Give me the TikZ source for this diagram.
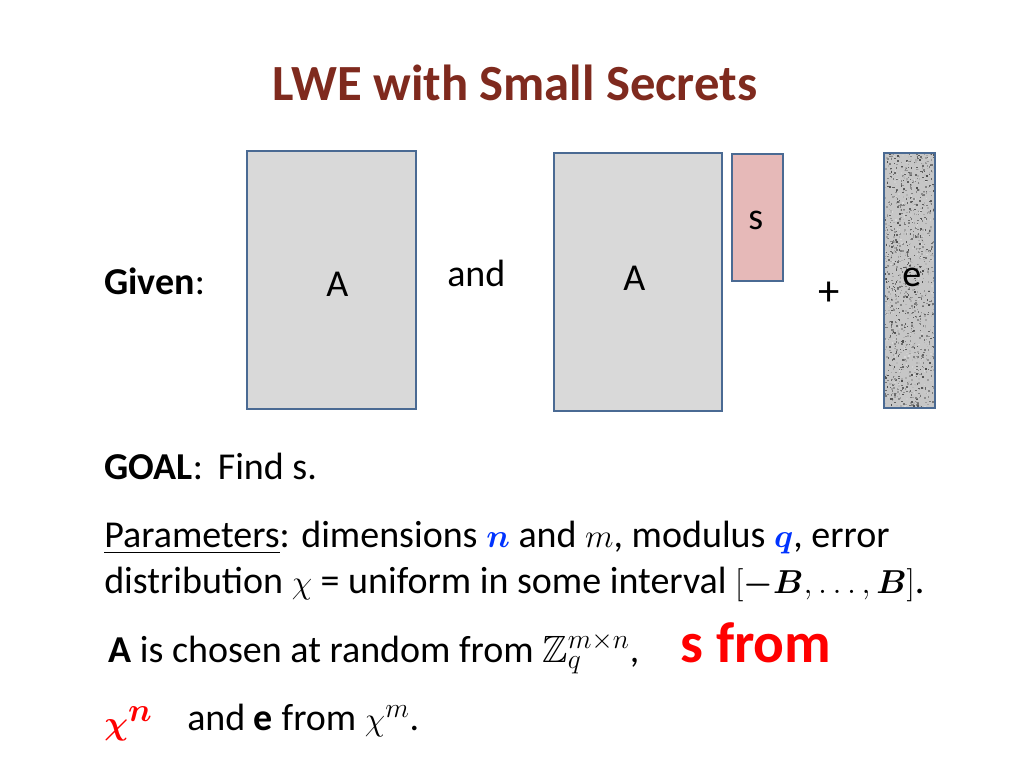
\documentclass[tikz,border=0pt]{standalone}
\usepackage{amsmath,amssymb}
\usepackage{fontspec}
\setmainfont{Carlito}
\definecolor{ttl}{HTML}{7F2A1E}
\definecolor{edge}{HTML}{4A6A93}
\definecolor{mgray}{HTML}{D9D9D9}
\definecolor{spink}{HTML}{E6B9B8}
\definecolor{bl}{HTML}{0033FF}
\begin{document}
\begin{tikzpicture}[x=0.75pt,y=-0.75pt,
  mat/.style={draw=edge,line width=1.5pt},
  txt/.style={anchor=base west,inner sep=0pt,font=\fontsize{28.5}{32}\selectfont}]
\useasboundingbox (0,0) rectangle (1024,768);
\node[font=\fontsize{38}{42}\selectfont\bfseries,text=ttl] (title) at (515,83) {LWE with Small Secrets};
\node[mat,fill=mgray,minimum width=169*0.75pt,minimum height=258*0.75pt,anchor=north west] (A1) at (246,150) {};
\node[mat,fill=mgray,minimum width=168*0.75pt,minimum height=258*0.75pt,anchor=north west] (A2) at (553,152) {};
\node[mat,fill=spink,minimum width=51*0.75pt,minimum height=127*0.75pt,anchor=north west] (s) at (731,153) {};
\begin{scope}
\clip (883,152) rectangle (934,407);
\fill[gray!45] (883,152) rectangle (934,407);
\pgfmathsetseed{7}
\foreach \i in {1,...,1400}{
  \pgfmathsetmacro{\xx}{883+51*rnd}
  \pgfmathsetmacro{\yy}{152+255*rnd}
  \pgfmathsetmacro{\gg}{15+55*rnd}
  \fill[black!\gg] (\xx,\yy) rectangle ++(1.5,1.5);
}
\end{scope}
\node[mat,minimum width=51*0.75pt,minimum height=255*0.75pt,anchor=north west] (e) at (883,152) {};
\node[txt] (given) at (104,294) {\textbf{Given}:};
\node[txt] (la1) at (326,296) {A};
\node[txt] (and) at (447,286) {and};
\node[txt] (la2) at (623,290) {A};
\node[txt] (ls) at (748,229) {s};
\node[txt,font=\fontsize{32}{34}\selectfont] (plus) at (818,305) {+};
\node[txt] (le) at (902,286) {e};
\node[txt] (goal) at (104,479) {\textbf{GOAL}:\, Find s.};
\node[txt] (p1) at (104,547) {\underline{Parameters}: dimensions $\color{bl}\boldsymbol{n}$ and $m$, modulus $\color{bl}\boldsymbol{q}$, error};
\node[txt] (p2) at (104,593) {distribution $\chi$ = uniform in some interval $[\boldsymbol{-B},\ldots,\boldsymbol{B}]$.};
\node[txt] (p3) at (108,662) {\textbf{A} is chosen at random from $\mathbb{Z}_q^{m\times n}$,};
\node[txt,font=\fontsize{43}{46}\selectfont\bfseries,text=red] (sf) at (680,662) {s from};
\node[txt,font=\fontsize{46}{50}\selectfont,text=red] (chin) at (104,734) {$\boldsymbol{\chi^n}$};
\node[txt] (p4) at (187,730) {and \textbf{e} from $\chi^m$.};
\end{tikzpicture}
\end{document}
